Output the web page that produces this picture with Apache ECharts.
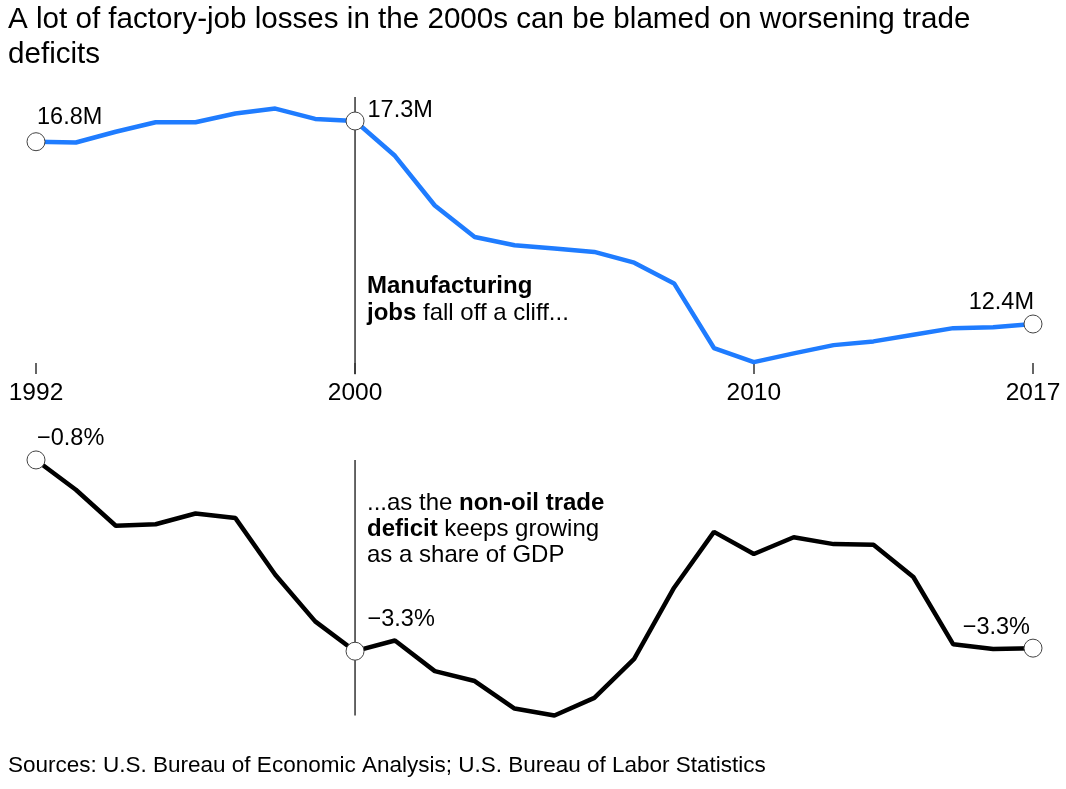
<!DOCTYPE html>
<html>
<head>
<meta charset="utf-8">
<script src="https://cdn.jsdelivr.net/npm/echarts@6/dist/echarts.min.js"></script>
<style>
html,body{margin:0;padding:0;background:#fff;}
#chart{width:1066px;height:789px;}
</style>
</head>
<body>
<div id="chart"></div>
<script>
// ---- data ----
const years = [1992,1993,1994,1995,1996,1997,1998,1999,2000,2001,2002,2003,2004,2005,2006,2007,2008,2009,2010,2011,2012,2013,2014,2015,2016,2017];
// Manufacturing jobs, millions
const jobs = [16.80,16.78,17.04,17.27,17.27,17.48,17.60,17.35,17.30,16.46,15.26,14.50,14.30,14.22,14.14,13.88,13.38,11.82,11.48,11.69,11.89,11.98,12.14,12.30,12.32,12.40];
// Non-oil trade balance, % of GDP
const tradeBalance = [-0.80,-1.19,-1.66,-1.64,-1.50,-1.56,-2.30,-2.91,-3.30,-3.16,-3.56,-3.69,-4.05,-4.14,-3.91,-3.40,-2.47,-1.74,-2.03,-1.81,-1.90,-1.91,-2.33,-3.21,-3.27,-3.26];
const tickYears = [1992,2000,2010,2017];
const markedYears = [1992,2000,2017];
const dividerYear = 2000;
const jobsDivider = [17.88, 11.19];
const tradeDivider = [-0.80, -4.14];

const titleText = 'A lot of factory-job losses in the 2000s can be blamed on worsening trade\ndeficits';
const sourceText = 'Sources: U.S. Bureau of Economic Analysis; U.S. Bureau of Labor Statistics';

const FONT = "'Liberation Sans', Arial, Helvetica, sans-serif";
const BLUE = '#1f7cff';

function fmtJobs(v){ return v.toFixed(1) + 'M'; }
function fmtTrade(v){ const s = Math.abs(v).toFixed(1) + '%'; return (v < 0 ? '\u2212' : '') + s; }

const jobLabelCfg = {
  1992: {position:'top', align:'left', offset:[1,1]},
  2000: {position:'right', offset:[-1,-10]},
  2017: {position:'top', align:'right', offset:[1,4]}
};
const tradeLabelCfg = {
  1992: {position:'top', align:'left', offset:[1,4]},
  2000: {position:'right', offset:[-1,-32]},
  2017: {position:'top', align:'right', offset:[-3,5]}
};

function buildData(vals, labelCfg, fmt){
  return years.map((y,i)=>{
    if (markedYears.indexOf(y) >= 0) {
      const c = labelCfg[y];
      return {
        value:[y, vals[i]],
        symbol:'circle', symbolSize:18,
        itemStyle:{color:'#fff', borderColor:'#444', borderWidth:1},
        label:Object.assign({show:true, formatter: fmt(vals[i]), fontSize:23.5, color:'#000', fontFamily:FONT, distance:4}, c)
      };
    }
    return {value:[y, vals[i]], symbol:'none'};
  });
}

const chart = echarts.init(document.getElementById('chart'), null, {renderer:'canvas'});
const option = {
  backgroundColor:'#fff',
  animation:false,
  title:{
    text:titleText, left:8, top:2, padding:0,
    textStyle:{fontSize:29.6, fontWeight:'normal', color:'#000', fontFamily:FONT, lineHeight:35}
  },
  grid:[
    {left:36, right:33, top:92, height:290},
    {left:36, right:33, top:437, height:306}
  ],
  xAxis:[
    {gridIndex:0, type:'value', min:1992, max:2017, offset:-8,
     axisLine:{show:false}, splitLine:{show:false},
     axisTick:{show:true, inside:true, length:11, customValues:tickYears, lineStyle:{color:'#333', width:1.5}},
     axisLabel:{show:true, customValues:tickYears, margin:7, fontSize:24.5, color:'#000', fontFamily:FONT, formatter:v=>String(v)}
    },
    {gridIndex:1, type:'value', min:1992, max:2017, show:false}
  ],
  yAxis:[
    {gridIndex:0, type:'value', min:11, max:18, show:false},
    {gridIndex:1, type:'value', min:-4.5, max:-0.5, show:false}
  ],
  series:[
    {type:'line', xAxisIndex:0, yAxisIndex:0, z:1, symbol:'none', silent:true,
     lineStyle:{color:'#333', width:1.5},
     data:jobsDivider.map(v=>[dividerYear, v])},
    {type:'line', xAxisIndex:1, yAxisIndex:1, z:1, symbol:'none', silent:true,
     lineStyle:{color:'#333', width:1.5},
     data:tradeDivider.map(v=>[dividerYear, v])},
    {type:'line', xAxisIndex:0, yAxisIndex:0, z:3, showAllSymbol:true,
     lineStyle:{color:BLUE, width:4.5}, itemStyle:{color:BLUE},
     data:buildData(jobs, jobLabelCfg, fmtJobs)},
    {type:'line', xAxisIndex:1, yAxisIndex:1, z:3, showAllSymbol:true,
     lineStyle:{color:'#000', width:4.5}, itemStyle:{color:'#000'},
     data:buildData(tradeBalance, tradeLabelCfg, fmtTrade)}
  ],
  graphic:[
    {type:'text', left:367, top:273, z:10,
     style:{
       text:'{b|Manufacturing}\n{b|jobs} {r|fall off a cliff...}',
       fill:'#000', font:'24px '+FONT, lineHeight:27,
       rich:{
         b:{fontWeight:'bold', fontSize:24, fontFamily:FONT, lineHeight:27, fill:'#000'},
         r:{fontWeight:'normal', fontSize:24, fontFamily:FONT, lineHeight:27, fill:'#000'}
       }
     }},
    {type:'text', left:367, top:490, z:10,
     style:{
       text:'{r|...as the }{b|non-oil trade}\n{b|deficit}{r| keeps growing}\n{r|as a share of GDP}',
       fill:'#000', font:'24px '+FONT, lineHeight:26,
       rich:{
         b:{fontWeight:'bold', fontSize:24, fontFamily:FONT, lineHeight:26, fill:'#000'},
         r:{fontWeight:'normal', fontSize:24, fontFamily:FONT, lineHeight:26, fill:'#000'}
       }
     }},
    {type:'text', left:8, top:754, z:10,
     style:{text:sourceText, fill:'#000', font:'22.5px '+FONT}}
  ]
};
chart.setOption(option);
</script>
</body>
</html>
